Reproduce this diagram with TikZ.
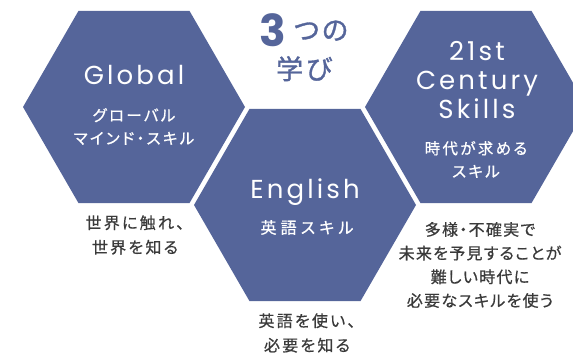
\documentclass[tikz,border=0pt]{standalone}
\usepackage{fontspec}
\usetikzlibrary{positioning}
\definecolor{hexblue}{RGB}{85,101,154}
\definecolor{notegray}{RGB}{58,58,58}
\newfontfamily\latinfont{Poppins}[LetterSpace=12]
\newfontfamily\numfont{Poppins}
\newfontfamily\jpfont{Noto Sans CJK JP}[RawFeature=+palt,LetterSpace=15,FakeBold=0.7]
\newfontfamily\jpnote{Noto Sans CJK JP}[RawFeature=+palt,LetterSpace=14,FakeBold=0.6]
\newfontfamily\jpnotetight{Noto Sans CJK JP}[RawFeature=+palt,LetterSpace=8,FakeBold=0.6]
\newfontfamily\jptitle{Noto Sans CJK JP}[RawFeature=+palt,LetterSpace=10,FakeBold=1.2]
\def\hexR{111}
\newcommand\drawhex[1]{\fill[hexblue] (#1) ++(0:\hexR) -- ++(120:\hexR) -- ++(180:\hexR) -- ++(240:\hexR) -- ++(300:\hexR) -- ++(0:\hexR) -- cycle;}

\begin{document}
\begin{tikzpicture}[x=1pt,y=1pt,% sizes below are in pt
				every node/.style={
					align=center,	% so that "\\" breaks lines
					inner sep=0pt
				},
				hexlatin/.style={text=white,font=\latinfont\fontsize{26}{29}\selectfont},
				hexjp/.style={text=white,font=\jpfont\fontsize{15.5}{23}\selectfont},
				note/.style={text=notegray,font=\jpnote\fontsize{16}{24.5}\selectfont},
				titlejp/.style={text=hexblue,font=\jptitle\fontsize{27}{30}\selectfont}
			]
			\useasboundingbox (0,0) rectangle (573,355);
			\clip (0,0) rectangle (573,355);
			\coordinate (cG) at (134,248);
			\coordinate (cE) at (305,150);
			\coordinate (cC) at (476,248);
			\drawhex{cG}
			\drawhex{cE}
			\drawhex{cC}
			% title
			\node[text=hexblue,font=\numfont\bfseries\fontsize{44}{44}\selectfont,anchor=base] (ttlNum) at (272.5,308) {3};
			\node[titlejp,anchor=base] (ttlKana) at (321,315) {つの};
			\node[titlejp,anchor=base] (ttlManabi) at (304,276) {学び};
			% Global
			\node[hexlatin,anchor=base] (glbTitle) at ([yshift=22]cG) {Global};
			\node[hexjp] (glbSub) at ([yshift=-19.5]cG) {グローバル\\マインド・スキル};
			\node[note] (glbNote) at (135,120) {世界に触れ、\\世界を知る};
			% English
			\node[hexlatin,anchor=base] (engTitle) at ([yshift=6.5]cE) {English};
			\node[hexjp,font=\jpfont\addfontfeature{LetterSpace=26}\fontsize{16}{23}\selectfont] (engSub) at ([xshift=2,yshift=-22.5]cE) {英語スキル};
			\node[note] (engNote) at (307,22) {英語を使い、\\必要を知る};
			% 21st Century Skills
			\node[hexlatin] (cenTitle) at ([xshift=1,yshift=26.5]cC) {21st\\Century\\Skills};
			\node[hexjp] (cenSub) at ([yshift=-52.5]cC) {時代が求める\\スキル};
			\node[note,font=\jpnotetight\fontsize{16}{23.7}\selectfont] (cenNote) at (480,90) {多様・不確実で\\未来を予見することが\\難しい時代に\\必要なスキルを使う};
		\end{tikzpicture}
\end{document}
